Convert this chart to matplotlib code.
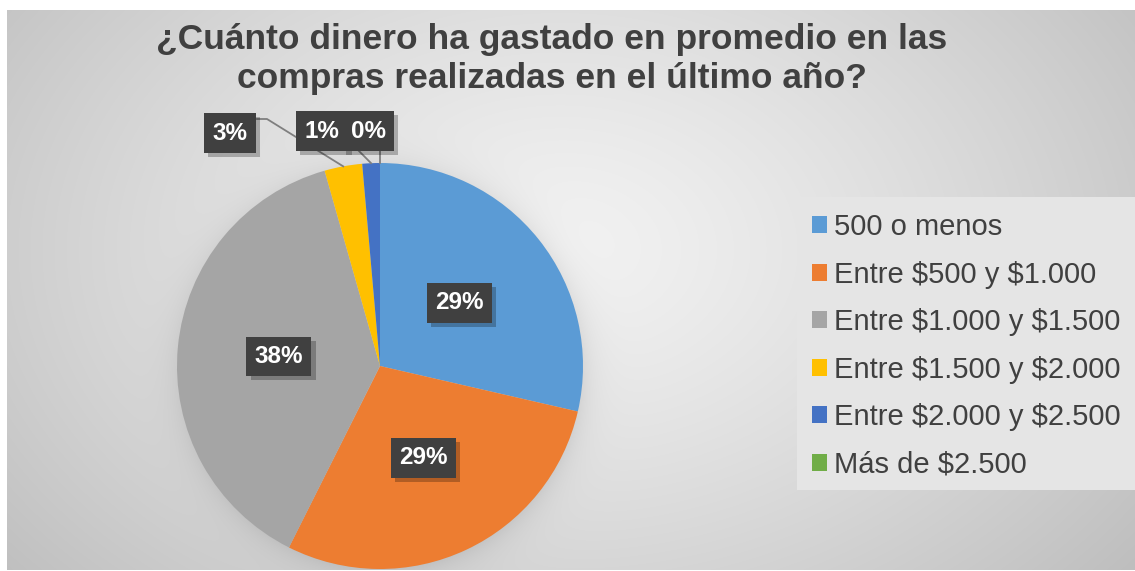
import numpy as np
import matplotlib
matplotlib.use("Agg")
import matplotlib.pyplot as plt
from matplotlib.patches import Rectangle, Patch
import matplotlib.patheffects as pe

plt.rcParams['font.family'] = ['Liberation Sans', 'DejaVu Sans']
plt.rcParams['text.parse_math'] = False

# ---- data ----
categories = ["500 o menos", "Entre $500 y $1.000", "Entre $1.000 y $1.500",
              "Entre $1.500 y $2.000", "Entre $2.000 y $2.500", "Más de $2.500"]
percentages = [28.6, 28.8, 38.2, 3.0, 1.4, 0.0]
colors = ["#5B9BD5", "#ED7D31", "#A5A5A5", "#FFC000", "#4472C4", "#70AD47"]
title = "¿Cuánto dinero ha gastado en promedio en las\ncompras realizadas en el último año?"

W, H = 1135, 571
fig = plt.figure(figsize=(W / 100, H / 100), dpi=100)
fig.patch.set_facecolor("white")

# ---- background (chart area) with radial gradient + pie shadow ----
x0, x1, y0, y1 = 7, 1135, 10, 570
bg = fig.add_axes([x0 / W, 1 - y1 / H, (x1 - x0) / W, (y1 - y0) / H])
bg.set_axis_off()
xx, yy = np.meshgrid(np.arange(x0, x1) + 0.5, np.arange(y0, y1) + 0.5)
d = np.sqrt(((xx - 560) / 600) ** 2 + ((yy - 250) / 420) ** 2)
val = 242 - 40 * d ** 1.3
cx, cy, R = 380, 366, 203
r = np.sqrt((xx - cx - 2) ** 2 + (yy - cy - 3) ** 2)
shadow = np.where(r > R - 5, 22 * np.exp(-np.clip(r - R + 5, 0, None) / 14), 22)
val = val - shadow
img = np.clip(val, 0, 255) / 255.0
bg.imshow(np.dstack([img, img, img]), extent=[x0, x1, y1, y0], aspect="auto",
          interpolation="bilinear")
bg.set_xlim(x0, x1)
bg.set_ylim(y1, y0)
# legend panel
bg.add_patch(Rectangle((797, 197), 1135 - 797, 490 - 197, facecolor="#e5e5e5",
                       edgecolor="none", zorder=3))

# ---- pie ----
ax = fig.add_axes([(cx - R) / W, (H - cy - R) / H, 2 * R / W, 2 * R / H])
wedges, _ = ax.pie(percentages, colors=colors, startangle=90, counterclock=False,
                   radius=1, wedgeprops=dict(linewidth=0))
ax.set_xlim(-1, 1)
ax.set_ylim(-1, 1)
ax.set_axis_off()

def px2d(px, py):
    return ((px - cx) / R, (cy - py) / R)

box_kw = dict(boxstyle="square,pad=0.34", facecolor="#404040", edgecolor="none")

def label(x, y, s):
    t = ax.text(x, y, s, ha="center", va="center", fontsize=17.5, fontweight="bold",
                color="white", bbox=box_kw, zorder=5, clip_on=False)
    t.get_bbox_patch().set_path_effects(
        [pe.SimplePatchShadow(offset=(3, -3), shadow_rgbFace="black", alpha=0.25), pe.Normal()])

# outside label box centres (pixels) and leader paths for the small slices
outside = {3: (230, 133), 4: (322, 131), 5: (368, 131)}
leaders = {3: [(257, 119), (267, 119)], 4: [(355, 147)], 5: [(380, 147)]}

for i, (w, p) in enumerate(zip(wedges, percentages)):
    mid = np.deg2rad((w.theta1 + w.theta2) / 2)
    txt = f"{round(p):.0f}%"
    if i in outside:
        bx, by = px2d(*outside[i])
        pts = [px2d(*q) for q in leaders[i]]
        ex, ey = np.cos(mid), np.sin(mid)
        xs = [q[0] for q in pts] + [ex]
        ys = [q[1] for q in pts] + [ey]
        ax.plot(xs, ys, color="#7f7f7f", lw=1.3, zorder=3, clip_on=False)
        label(bx, by, txt)
    else:
        label(0.5 * np.cos(mid), 0.5 * np.sin(mid), txt)

# ---- title ----
fig.text(552 / W, 1 - 59 / H, title, ha="center", va="center", fontsize=25.5,
         fontweight="bold", color="#404040", linespacing=1.22)

# ---- legend ----
handles = [Patch(facecolor=c, edgecolor="none") for c in colors]
leg = fig.legend(handles, categories, loc="upper left",
                 bbox_to_anchor=(812 / W, 1 - 213 / H), frameon=False,
                 fontsize=21, handlelength=0.52, handleheight=0.52,
                 handletextpad=0.25, labelspacing=0.67, borderaxespad=0,
                 borderpad=0)
for t in leg.get_texts():
    t.set_color("#404040")

fig.savefig("out.png", dpi=100)
